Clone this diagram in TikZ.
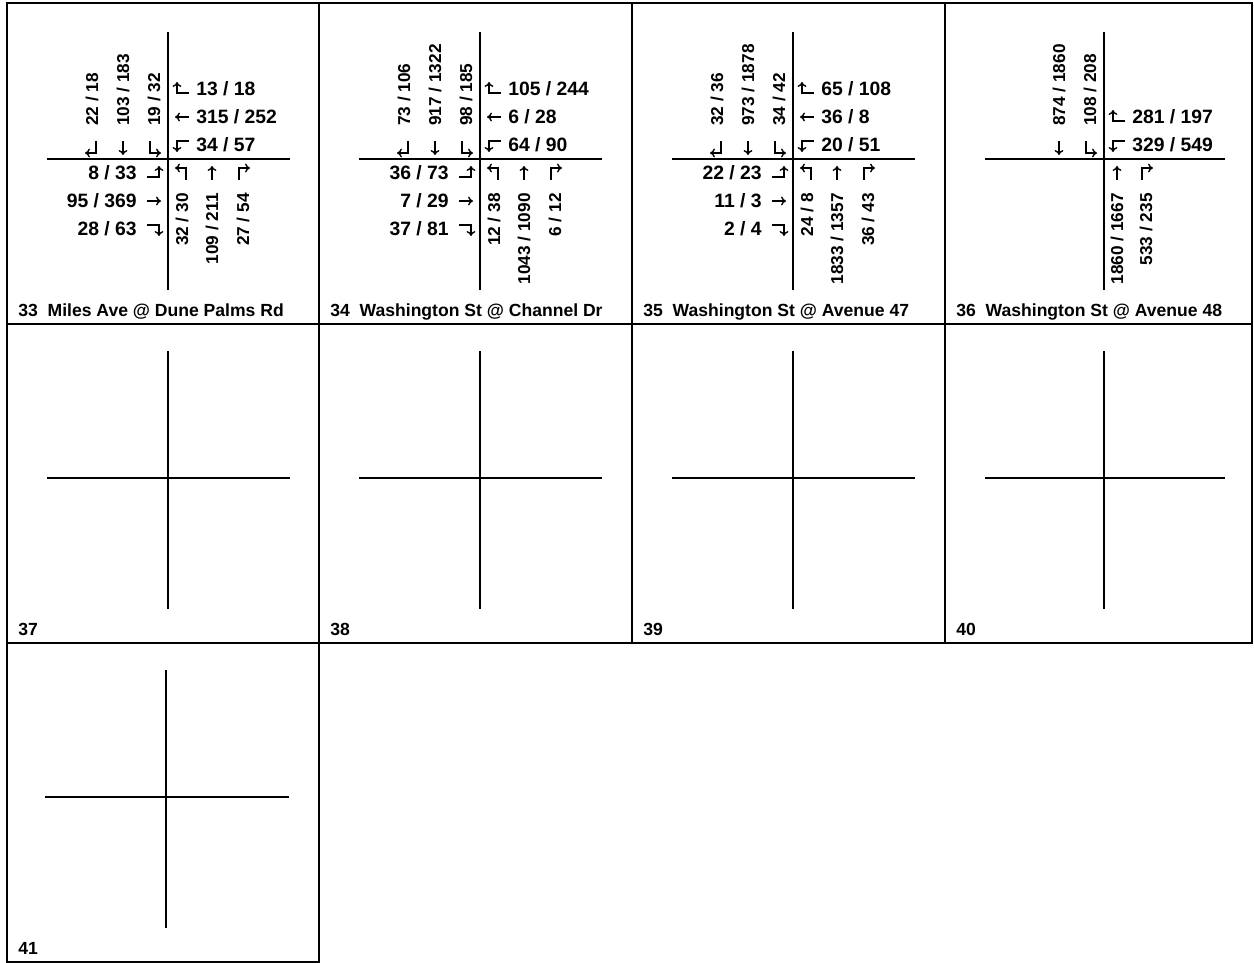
\documentclass[tikz,border=0pt]{standalone}
\usepackage{fontspec}
\setmainfont{Liberation Sans}
\usetikzlibrary{arrows.meta}
\tikzset{
    cellframe/.style={line width=1.1pt},
    road/.style={line width=1.2pt},
    mvline/.style={line width=0.8pt, -{To[length=2.8pt,width=5pt]}},
    volh/.style={inner sep=0pt, font=\bfseries\fontsize{11}{13}\selectfont},
    volv/.style={inner sep=0pt, rotate=90, font=\bfseries\fontsize{9.8}{11}\selectfont},
    celltitle/.style={inner sep=0pt, anchor=base west, font=\bfseries\fontsize{10}{12}\selectfont},
    mvthru/.pic={\draw[mvline] (0,-7) -- (0,7);},
    mvleft/.pic={\draw[mvline] (4,-7) -- (4,5) -- (-7,5);},
    mvright/.pic={\draw[mvline] (-4,-7) -- (-4,5) -- (7,5);}
}
\begin{document}
\begin{tikzpicture}[x=0.02cm, y=0.02cm]
    \useasboundingbox (0,0) rectangle (1254,963);

    % Grid of the count sheet
    \draw[cellframe] (7,320) rectangle (1252,960);
    \draw[cellframe] (7,639) -- (1252,639);
    \draw[cellframe] (319,320) -- (319,960);
    \draw[cellframe] (632,320) -- (632,960);
    \draw[cellframe] (945,320) -- (945,960);
    \draw[cellframe] (7,1) rectangle (319,320);

    % 33: Miles Ave @ Dune Palms Rd
    \begin{scope}[shift={(7,639)}]
        \draw[road] (161,34) -- (161,292);
        \draw[road] (40,165) -- (283,165);
        \pic[rotate=180] at (85,176) {mvright};
        \pic[rotate=180] at (116,176) {mvthru};
        \pic[rotate=180] at (147,176) {mvleft};
        \node (n33sbr) [volv, anchor=west] at (85,198) {22 / 18};
        \node (n33sbt) [volv, anchor=west] at (116,198) {103 / 183};
        \node (n33sbl) [volv, anchor=west] at (147,198) {19 / 32};
        \pic[rotate=90] at (175,235) {mvright};
        \pic[rotate=90] at (175,207) {mvthru};
        \pic[rotate=90] at (175,179) {mvleft};
        \node (n33wbr) [volh, anchor=west] at (189,235) {13 / 18};
        \node (n33wbt) [volh, anchor=west] at (189,207) {315 / 252};
        \node (n33wbl) [volh, anchor=west] at (189,179) {34 / 57};
        \pic[rotate=-90] at (147,151) {mvleft};
        \pic[rotate=-90] at (147,123) {mvthru};
        \pic[rotate=-90] at (147,95) {mvright};
        \node (n33ebl) [volh, anchor=east] at (130,151) {8 / 33};
        \node (n33ebt) [volh, anchor=east] at (130,123) {95 / 369};
        \node (n33ebr) [volh, anchor=east] at (130,95) {28 / 63};
        \pic at (175,151) {mvleft};
        \pic at (205,151) {mvthru};
        \pic at (236,151) {mvright};
        \node (n33nbl) [volv, anchor=east] at (175,131) {32 / 30};
        \node (n33nbt) [volv, anchor=east] at (205,131) {109 / 211};
        \node (n33nbr) [volv, anchor=east] at (236,131) {27 / 54};
        \node (t33) [celltitle] at (11,7) {33~~Miles Ave @ Dune Palms Rd};
    \end{scope}

    % 34: Washington St @ Channel Dr
    \begin{scope}[shift={(319,639)}]
        \draw[road] (161,34) -- (161,292);
        \draw[road] (40,165) -- (283,165);
        \pic[rotate=180] at (85,176) {mvright};
        \pic[rotate=180] at (116,176) {mvthru};
        \pic[rotate=180] at (147,176) {mvleft};
        \node (n34sbr) [volv, anchor=west] at (85,198) {73 / 106};
        \node (n34sbt) [volv, anchor=west] at (116,198) {917 / 1322};
        \node (n34sbl) [volv, anchor=west] at (147,198) {98 / 185};
        \pic[rotate=90] at (175,235) {mvright};
        \pic[rotate=90] at (175,207) {mvthru};
        \pic[rotate=90] at (175,179) {mvleft};
        \node (n34wbr) [volh, anchor=west] at (189,235) {105 / 244};
        \node (n34wbt) [volh, anchor=west] at (189,207) {6 / 28};
        \node (n34wbl) [volh, anchor=west] at (189,179) {64 / 90};
        \pic[rotate=-90] at (147,151) {mvleft};
        \pic[rotate=-90] at (147,123) {mvthru};
        \pic[rotate=-90] at (147,95) {mvright};
        \node (n34ebl) [volh, anchor=east] at (130,151) {36 / 73};
        \node (n34ebt) [volh, anchor=east] at (130,123) {7 / 29};
        \node (n34ebr) [volh, anchor=east] at (130,95) {37 / 81};
        \pic at (175,151) {mvleft};
        \pic at (205,151) {mvthru};
        \pic at (236,151) {mvright};
        \node (n34nbl) [volv, anchor=east] at (175,131) {12 / 38};
        \node (n34nbt) [volv, anchor=east] at (205,131) {1043 / 1090};
        \node (n34nbr) [volv, anchor=east] at (236,131) {6 / 12};
        \node (t34) [celltitle] at (11,7) {34~~Washington St @ Channel Dr};
    \end{scope}

    % 35: Washington St @ Avenue 47
    \begin{scope}[shift={(632,639)}]
        \draw[road] (161,34) -- (161,292);
        \draw[road] (40,165) -- (283,165);
        \pic[rotate=180] at (85,176) {mvright};
        \pic[rotate=180] at (116,176) {mvthru};
        \pic[rotate=180] at (147,176) {mvleft};
        \node (n35sbr) [volv, anchor=west] at (85,198) {32 / 36};
        \node (n35sbt) [volv, anchor=west] at (116,198) {973 / 1878};
        \node (n35sbl) [volv, anchor=west] at (147,198) {34 / 42};
        \pic[rotate=90] at (175,235) {mvright};
        \pic[rotate=90] at (175,207) {mvthru};
        \pic[rotate=90] at (175,179) {mvleft};
        \node (n35wbr) [volh, anchor=west] at (189,235) {65 / 108};
        \node (n35wbt) [volh, anchor=west] at (189,207) {36 / 8};
        \node (n35wbl) [volh, anchor=west] at (189,179) {20 / 51};
        \pic[rotate=-90] at (147,151) {mvleft};
        \pic[rotate=-90] at (147,123) {mvthru};
        \pic[rotate=-90] at (147,95) {mvright};
        \node (n35ebl) [volh, anchor=east] at (130,151) {22 / 23};
        \node (n35ebt) [volh, anchor=east] at (130,123) {11 / 3};
        \node (n35ebr) [volh, anchor=east] at (130,95) {2 / 4};
        \pic at (175,151) {mvleft};
        \pic at (205,151) {mvthru};
        \pic at (236,151) {mvright};
        \node (n35nbl) [volv, anchor=east] at (175,131) {24 / 8};
        \node (n35nbt) [volv, anchor=east] at (205,131) {1833 / 1357};
        \node (n35nbr) [volv, anchor=east] at (236,131) {36 / 43};
        \node (t35) [celltitle] at (11,7) {35~~Washington St @ Avenue 47};
    \end{scope}

    % 36: Washington St @ Avenue 48
    \begin{scope}[shift={(945,639)}]
        \draw[road] (159,34) -- (159,292);
        \draw[road] (40,165) -- (280,165);
        \pic[rotate=180] at (114,176) {mvthru};
        \pic[rotate=180] at (145,176) {mvleft};
        \node (n36sbt) [volv, anchor=west] at (114,198) {874 / 1860};
        \node (n36sbl) [volv, anchor=west] at (145,198) {108 / 208};
        \pic[rotate=90] at (173,207) {mvright};
        \pic[rotate=90] at (173,179) {mvleft};
        \node (n36wbr) [volh, anchor=west] at (187,207) {281 / 197};
        \node (n36wbl) [volh, anchor=west] at (187,179) {329 / 549};
        \pic at (172,151) {mvthru};
        \pic at (201,151) {mvright};
        \node (n36nbt) [volv, anchor=east] at (172,131) {1860 / 1667};
        \node (n36nbr) [volv, anchor=east] at (201,131) {533 / 235};
        \node (t36) [celltitle] at (11,7) {36~~Washington St @ Avenue 48};
    \end{scope}

    % 37 - 40: blank intersections
    \begin{scope}[shift={(7,320)}]
        \draw[road] (161,34) -- (161,292);
        \draw[road] (40,165) -- (283,165);
        \node (t37) [celltitle] at (11,7) {37};
    \end{scope}
    \begin{scope}[shift={(319,320)}]
        \draw[road] (161,34) -- (161,292);
        \draw[road] (40,165) -- (283,165);
        \node (t38) [celltitle] at (11,7) {38};
    \end{scope}
    \begin{scope}[shift={(632,320)}]
        \draw[road] (161,34) -- (161,292);
        \draw[road] (40,165) -- (283,165);
        \node (t39) [celltitle] at (11,7) {39};
    \end{scope}
    \begin{scope}[shift={(945,320)}]
        \draw[road] (159,34) -- (159,292);
        \draw[road] (40,165) -- (280,165);
        \node (t40) [celltitle] at (11,7) {40};
    \end{scope}

    % 41
    \begin{scope}[shift={(7,1)}]
        \draw[road] (159,34) -- (159,292);
        \draw[road] (38,165) -- (282,165);
        \node (t41) [celltitle] at (11,7) {41};
    \end{scope}
\end{tikzpicture}
\end{document}
